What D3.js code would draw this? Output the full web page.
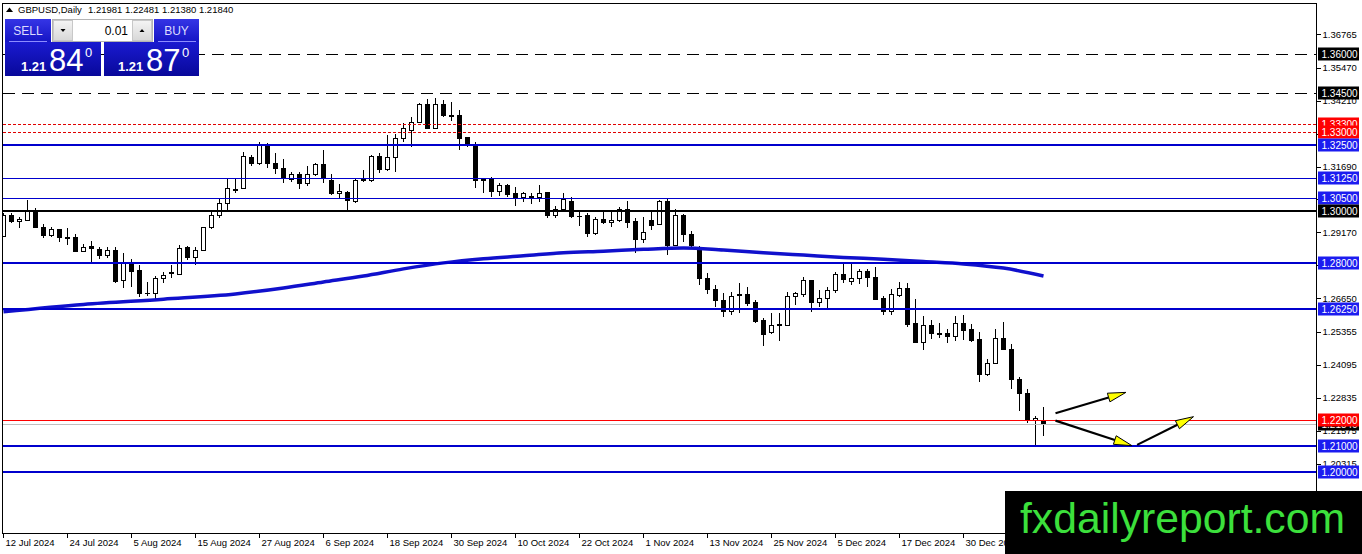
<!DOCTYPE html>
<html><head><meta charset="utf-8">
<script src="https://cdn.jsdelivr.net/npm/d3@7/dist/d3.min.js"></script>
<style>html,body{margin:0;padding:0;background:#fff;overflow:hidden}svg{display:block}</style>
</head><body><svg id="c" width="1362" height="554"></svg>
<script>
// ---------- DATA ----------
const symbolTitle = "GBPUSD,Daily";
const lastOHLC = [1.21981, 1.22481, 1.21380, 1.21840];
const opens = [1.2900,1.2980,1.2958,1.2964,1.2996,1.2936,1.2904,1.2926,1.2898,1.2898,1.2843,1.2861,1.2853,1.2828,1.2848,1.2732,1.2796,1.2769,1.2683,1.2683,
1.2741,1.2764,1.2757,1.2857,1.2821,1.2849,1.2936,1.2982,1.3028,1.3081,1.3083,1.3204,1.3181,1.3254,1.3181,1.3162,1.3121,1.3139,1.3105,1.3139,
1.3175,1.3117,1.3066,1.3070,1.3034,1.3115,1.3115,1.3209,1.3156,1.3204,1.3277,1.3306,1.3337,1.3405,1.3315,1.3407,1.3366,1.3366,1.3280,1.3255,
1.3120,1.3120,1.3073,1.3098,1.3064,1.3051,1.3056,1.3051,1.3069,1.2983,1.3005,1.3036,1.2978,1.2980,1.2913,1.2967,1.2955,1.2964,1.3005,1.2958,
1.2890,1.2964,1.2948,1.3034,1.2868,1.2980,1.2909,1.2859,1.2741,1.2699,1.2655,1.2613,1.2674,1.2677,1.2648,1.2581,1.2533,1.2561,1.2561,1.2673,
1.2680,1.2732,1.2648,1.2664,1.2694,1.2754,1.2728,1.2741,1.2766,1.2745,1.2664,1.2613,1.2675,1.2702,1.2566,1.2495,1.2562,1.2528,1.2531,1.2518,
1.2568,1.2544,1.2507,1.2373,1.2415,1.2511,1.2469,1.2355,1.2300,1.2198,1.21981];
const highs = [1.2990,1.2992,1.2977,1.3041,1.3009,1.2949,1.2936,1.2930,1.2932,1.2911,1.2872,1.2884,1.2862,1.2859,1.2859,1.2836,1.2814,1.2792,1.2728,1.2750,
1.2766,1.2792,1.2867,1.2866,1.2862,1.2939,1.2996,1.3043,1.3122,1.3124,1.3226,1.3213,1.3262,1.3258,1.3222,1.3198,1.3147,1.3147,1.3171,1.3181,
1.3232,1.3139,1.3101,1.3075,1.3121,1.3156,1.3213,1.3222,1.3290,1.3292,1.3334,1.3360,1.3411,1.3428,1.3430,1.3424,1.3417,1.3386,1.3281,1.3262,
1.3126,1.3128,1.3107,1.3102,1.3089,1.3073,1.3066,1.3098,1.3073,1.3018,1.3066,1.3051,1.3000,1.2990,1.2977,1.2999,1.2999,1.3013,1.3038,1.2971,
1.2974,1.3000,1.3041,1.3047,1.3005,1.2987,1.2923,1.2865,1.2762,1.2715,1.2686,1.2690,1.2722,1.2709,1.2658,1.2588,1.2607,1.2607,1.2690,1.2690,
1.2745,1.2734,1.2696,1.2709,1.2766,1.2805,1.2798,1.2775,1.2775,1.2783,1.2673,1.2699,1.2728,1.2724,1.2660,1.2595,1.2582,1.2570,1.2546,1.2596,
1.2602,1.2564,1.2537,1.2432,1.2545,1.2575,1.2489,1.2362,1.2316,1.2215,1.22481];
const lows = [1.2898,1.2951,1.2932,1.2962,1.2936,1.2897,1.2900,1.2881,1.2868,1.2843,1.2840,1.2801,1.2814,1.2817,1.2722,1.2702,1.2706,1.2668,1.2673,1.2658,
1.2722,1.2741,1.2756,1.2811,1.2792,1.2847,1.2930,1.2971,1.3002,1.3069,1.3082,1.3172,1.3175,1.3162,1.3139,1.3105,1.3111,1.3082,1.3096,1.3134,
1.3105,1.3060,1.3047,1.3002,1.3028,1.3111,1.3111,1.3143,1.3152,1.3147,1.3262,1.3243,1.3334,1.3312,1.3313,1.3360,1.3343,1.3232,1.3243,1.3088,
1.3066,1.3054,1.3056,1.3054,1.3018,1.3034,1.3024,1.3032,1.2971,1.2971,1.3002,1.2971,1.2941,1.2900,1.2907,1.2949,1.2936,1.2958,1.2932,1.2839,
1.2877,1.2926,1.2945,1.2830,1.2865,1.2879,1.2859,1.2715,1.2681,1.2630,1.2591,1.2600,1.2609,1.2636,1.2571,1.2482,1.2528,1.2502,1.2558,1.2639,
1.2671,1.2613,1.2632,1.2626,1.2683,1.2722,1.2715,1.2718,1.2709,1.2658,1.2600,1.2600,1.2671,1.2556,1.2492,1.2467,1.2507,1.2512,1.2495,1.2502,
1.2503,1.2498,1.2345,1.2368,1.2411,1.2466,1.2316,1.2234,1.2188,1.2100,1.21380];
const closes = [1.2983,1.2958,1.2968,1.2996,1.2936,1.2904,1.2926,1.2897,1.2895,1.2843,1.2859,1.2856,1.2828,1.2849,1.2728,1.2798,1.2766,1.2683,1.2682,1.2741,
1.2752,1.2760,1.2854,1.2821,1.2849,1.2936,1.2982,1.3028,1.3083,1.3079,1.3209,1.3181,1.3251,1.3181,1.3162,1.3124,1.3139,1.3105,1.3139,1.3175,
1.3124,1.3065,1.3075,1.3037,1.3117,1.3119,1.3209,1.3156,1.3204,1.3277,1.3315,1.3337,1.3405,1.3315,1.3407,1.3366,1.3362,1.3277,1.3255,1.3117,
1.3116,1.3073,1.3098,1.3060,1.3051,1.3064,1.3051,1.3066,1.2983,1.3005,1.3043,1.2977,1.2976,1.2911,1.2967,1.2954,1.2964,1.3005,1.2954,1.2890,
1.2916,1.2945,1.3034,1.2868,1.2980,1.2909,1.2865,1.2741,1.2699,1.2655,1.2613,1.2673,1.2678,1.2645,1.2577,1.2526,1.2562,1.2563,1.2673,1.2681,
1.2732,1.2648,1.2664,1.2696,1.2754,1.2737,1.2741,1.2766,1.2745,1.2660,1.2613,1.2677,1.2702,1.2564,1.2495,1.2562,1.2530,1.2526,1.2517,1.2568,
1.2542,1.2504,1.2373,1.2415,1.2511,1.2469,1.2354,1.2300,1.2201,1.2203,1.21840];

const maIdx = [0,10,20,29,35,40,45,50,55,60,65,70,75,80,85,90,95,100,105,110,115,120,125,130];
const maVal = [1.2613,1.2641,1.2661,1.2681,1.2704,1.2727,1.2750,1.2777,1.2800,1.2816,1.2827,1.2839,1.2845,1.2852,1.2857,1.2849,1.2839,1.2830,1.2821,1.2814,1.2805,1.2796,1.2780,1.2750];

const dateTickIdx = [0,8,16,24,32,40,48,56,64,72,80,88,96,104,112,120];
const dateLabels = ["12 Jul 2024","24 Jul 2024","5 Aug 2024","15 Aug 2024","27 Aug 2024","6 Sep 2024","18 Sep 2024","30 Sep 2024","10 Oct 2024","22 Oct 2024","1 Nov 2024","13 Nov 2024","25 Nov 2024","5 Dec 2024","17 Dec 2024","30 Dec 2024"];

const priceTicks = [1.36765,1.35470,1.34210,1.32950,1.31690,1.30430,1.29170,1.27910,1.26650,1.25355,1.24095,1.22835,1.21575,1.20315];

const levels = [1.36000,1.34500,1.33300,1.33000,1.32500,1.31250,1.30500,1.30000,1.28000,1.26250,1.22000,1.21000,1.20000];
const levelKinds = ["dash","dash","dot","dot","blueThick","blueThin","blueThin","black","blueThick","blueThick","red","blueThick","blueThick"];
const bidPrice = 1.21840;

const arrowStarts = [[131.5,1.2224],[131.5,1.2196],[141.7,1.2103]];
const arrowEnds   = [[140.3,1.2304],[141.05,1.2100],[148.75,1.2211]];

const sellPrice = ["1.21","84","0"];
const buyPrice  = ["1.21","87","0"];
const lotSize = "0.01";
const watermark = "fxdailyreport.com";

// ---------- SCALES ----------
const L = 2.5, T = 3.5, R = 1316.5, B = 533.5;
const x = d3.scaleLinear().domain([0, 164]).range([3.5, 3.5 + 8 * 164]);
const y = d3.scaleLinear().domain([1.20, 1.36]).range([471.76, 54]);
const FONT = "'Liberation Sans', Arial, sans-serif";

const svg = d3.select("#c");
svg.append("rect").attr("width",1362).attr("height",554).attr("fill","#fff");

const defs = svg.append("defs");
defs.append("clipPath").attr("id","plot").append("rect").attr("x",L).attr("y",T).attr("width",R-L).attr("height",B-T);
const g1 = defs.append("linearGradient").attr("id","hdr").attr("x1",0).attr("y1",0).attr("x2",0).attr("y2",1);
g1.append("stop").attr("offset","0%").attr("stop-color","#3535e6");
g1.append("stop").attr("offset","100%").attr("stop-color","#1515c4");
const g2 = defs.append("linearGradient").attr("id","prc").attr("x1",0).attr("y1",0).attr("x2",0).attr("y2",1);
g2.append("stop").attr("offset","0%").attr("stop-color","#1a1ad0");
g2.append("stop").attr("offset","100%").attr("stop-color","#08089a");
const g3 = defs.append("linearGradient").attr("id","btn").attr("x1",0).attr("y1",0).attr("x2",0).attr("y2",1);
g3.append("stop").attr("offset","0%").attr("stop-color","#f4f4f4");
g3.append("stop").attr("offset","100%").attr("stop-color","#d8d8d8");

const plot = svg.append("g").attr("clip-path","url(#plot)");

// ---------- CANDLES ----------
const bars = d3.range(opens.length).map(i => ({i, o:opens[i], h:highs[i], l:lows[i], c:closes[i]}));
const cg = plot.append("g").attr("shape-rendering","crispEdges");
cg.selectAll("line.w").data(bars).join("line")
  .attr("x1", d => x(d.i)).attr("x2", d => x(d.i))
  .attr("y1", d => y(d.h)).attr("y2", d => y(d.l))
  .attr("stroke","#000").attr("stroke-width",1);
cg.selectAll("rect.b").data(bars).join("rect")
  .attr("x", d => x(d.i) - 2)
  .attr("width", 4)
  .attr("y", d => y(Math.max(d.o, d.c)))
  .attr("height", d => Math.max(0.5, Math.abs(y(d.o) - y(d.c))))
  .attr("fill", d => d.c >= d.o ? "#fff" : "#000")
  .attr("stroke","#000").attr("stroke-width",1);

// ---------- MOVING AVERAGE ----------
plot.append("path")
  .datum(maIdx.map((k, j) => [k, maVal[j]]))
  .attr("d", d3.line().x(d => x(d[0])).y(d => y(d[1])).curve(d3.curveMonotoneX))
  .attr("fill","none").attr("stroke","#1010cc").attr("stroke-width",3.5);

// ---------- LEVEL LINES ----------
const style = {
  dash:{c:"#000", w:1, da:"12,7"},
  dot:{c:"#e00000", w:1, da:"3,2"},
  blueThick:{c:"#0000cd", w:2, da:null},
  blueThin:{c:"#0000cd", w:1, da:null},
  black:{c:"#000", w:2, da:null},
  red:{c:"#ff0000", w:1, da:null}
};
const lg = plot.append("g").attr("shape-rendering","crispEdges");
lg.append("line").attr("x1",L).attr("x2",R)
  .attr("y1", Math.round(y(bidPrice))+0.5).attr("y2", Math.round(y(bidPrice))+0.5)
  .attr("stroke","#c0c0c0").attr("stroke-width",1);
levels.forEach((p, j) => {
  const s = style[levelKinds[j]];
  const yy = s.w === 2 ? Math.round(y(p)) : Math.round(y(p)) + 0.5;
  lg.append("line").attr("x1",L).attr("x2",R).attr("y1",yy).attr("y2",yy)
    .attr("stroke",s.c).attr("stroke-width",s.w).attr("stroke-dasharray",s.da);
});

// ---------- ARROWS ----------
const ag = svg.append("g");
arrowStarts.forEach((s, j) => {
  const e = arrowEnds[j];
  const x1 = x(s[0]), y1 = y(s[1]), x2 = x(e[0]), y2 = y(e[1]);
  const ang = Math.atan2(y2 - y1, x2 - x1);
  const len = 18, hw = 4.5;
  const bx = x2 - len * Math.cos(ang), by = y2 - len * Math.sin(ang);
  ag.append("line").attr("x1",x1).attr("y1",y1).attr("x2",bx).attr("y2",by)
    .attr("stroke","#000").attr("stroke-width",2.2);
  const p1 = [bx + hw * Math.sin(ang), by - hw * Math.cos(ang)];
  const p2 = [bx - hw * Math.sin(ang), by + hw * Math.cos(ang)];
  ag.append("path").attr("d", `M${x2},${y2}L${p1[0]},${p1[1]}L${p2[0]},${p2[1]}Z`)
    .attr("fill","#ffff00").attr("stroke","#000").attr("stroke-width",1);
});

// ---------- FRAME ----------
svg.append("rect").attr("x",L).attr("y",T).attr("width",R-L).attr("height",B-T)
  .attr("fill","none").attr("stroke","#000").attr("stroke-width",1).attr("shape-rendering","crispEdges");

// ---------- X AXIS ----------
const xAxis = d3.axisBottom(x).tickValues(dateTickIdx)
  .tickFormat((d, k) => dateLabels[k]).tickSize(4).tickSizeOuter(0);
const xg = svg.append("g").attr("transform",`translate(-0.5,${B})`).call(xAxis);
xg.select(".domain").remove();
xg.selectAll(".tick line").attr("stroke","#000").attr("shape-rendering","crispEdges");
xg.selectAll(".tick text").attr("text-anchor","start").attr("x",2).attr("y",6).attr("dy","0.71em")
  .attr("fill","#000").style("font-family",FONT).style("font-size","9.5px");

// ---------- Y AXIS ----------
const yAxis = d3.axisRight(y).tickValues(priceTicks).tickFormat(d3.format(".5f")).tickSize(4).tickSizeOuter(0);
const yg = svg.append("g").attr("transform",`translate(${R},0)`).call(yAxis);
yg.select(".domain").remove();
yg.selectAll(".tick line").attr("stroke","#000").attr("shape-rendering","crispEdges");
yg.selectAll(".tick text").attr("x",6).attr("fill","#000").style("font-family",FONT).style("font-size","9.5px");

// ---------- PRICE LABELS ----------
const labG = svg.append("g");
function priceLabel(p, bg) {
  const yy = Math.round(y(p));
  labG.append("rect").attr("x",R+1.5).attr("y",yy-6.5).attr("width",41).attr("height",13).attr("fill",bg);
  labG.append("text").attr("x",R+5).attr("y",yy+4).text(d3.format(".5f")(p))
    .attr("fill","#fff").style("font-family",FONT).style("font-size","10px");
}
priceLabel(bidPrice, "#000");
const labelBg = {dash:"#000", dot:"#ff0000", blueThick:"#1c1cf0", blueThin:"#1c1cf0", black:"#000", red:"#ff0000"};
levels.forEach((p, j) => priceLabel(p, labelBg[levelKinds[j]]));

// ---------- HEADER ----------
const hg = svg.append("g").style("font-family",FONT);
hg.append("path").attr("d","M6,12 L9.5,7.5 L13,12 Z").attr("fill","#000");
hg.append("text").attr("x",18).attr("y",13).text(symbolTitle).style("font-size","9.5px");
hg.append("text").attr("x",88).attr("y",13).text(lastOHLC.map(d3.format(".5f")).join(" ")).style("font-size","9.5px");

// ---------- TRADE PANEL ----------
const pg = svg.append("g").style("font-family",FONT);
pg.append("rect").attr("x",5).attr("y",19).attr("width",46).attr("height",23).attr("fill","url(#hdr)");
pg.append("rect").attr("x",154).attr("y",19).attr("width",45).attr("height",23).attr("fill","url(#hdr)");
pg.append("rect").attr("x",5).attr("y",42).attr("width",96).attr("height",34).attr("fill","url(#prc)");
pg.append("rect").attr("x",104).attr("y",42).attr("width",95).attr("height",34).attr("fill","url(#prc)");
pg.append("line").attr("x1",9).attr("x2",47).attr("y1",41.5).attr("y2",41.5).attr("stroke","#8c8cff");
pg.append("line").attr("x1",158).attr("x2",196).attr("y1",41.5).attr("y2",41.5).attr("stroke","#8c8cff");
pg.append("text").attr("x",28).attr("y",35).attr("text-anchor","middle").text("SELL").attr("fill","#dcdcff").style("font-size","12px");
pg.append("text").attr("x",176.5).attr("y",35).attr("text-anchor","middle").text("BUY").attr("fill","#dcdcff").style("font-size","12px");
// lot control
pg.append("rect").attr("x",52.5).attr("y",19.5).attr("width",100).attr("height",22).attr("fill","#fff").attr("stroke","#b4b4b4");
pg.append("rect").attr("x",53.5).attr("y",20.5).attr("width",19).attr("height",20).attr("fill","url(#btn)").attr("stroke","#c8c8c8");
pg.append("rect").attr("x",132.5).attr("y",20.5).attr("width",19).attr("height",20).attr("fill","url(#btn)").attr("stroke","#c8c8c8");
pg.append("path").attr("d","M60.5,29 L65.5,29 L63,32 Z").attr("fill","#000");
pg.append("path").attr("d","M139.5,32 L144.5,32 L142,29 Z").attr("fill","#000");
pg.append("text").attr("x",128).attr("y",35).attr("text-anchor","end").text(lotSize).attr("fill","#000").style("font-size","12px");
// prices
function bigPrice(x0, parts) {
  pg.append("text").attr("x",x0).attr("y",71).text(parts[0]).attr("fill","#fff").style("font-size","13px").style("font-weight","bold");
  pg.append("text").attr("x",x0+28).attr("y",71).text(parts[1]).attr("fill","#fff").style("font-size","31px");
  pg.append("text").attr("x",x0+64).attr("y",57).text(parts[2]).attr("fill","#fff").style("font-size","13px");
}
bigPrice(21, sellPrice);
bigPrice(118, buyPrice);

// ---------- WATERMARK ----------
svg.append("rect").attr("x",1005).attr("y",491).attr("width",357).attr("height",63).attr("fill","#000");
svg.append("text").attr("x",1020).attr("y",533).text(watermark)
  .attr("fill","#3ce03c").attr("textLength",325).attr("lengthAdjust","spacingAndGlyphs")
  .style("font-family",FONT).style("font-size","42px");
</script></body></html>
